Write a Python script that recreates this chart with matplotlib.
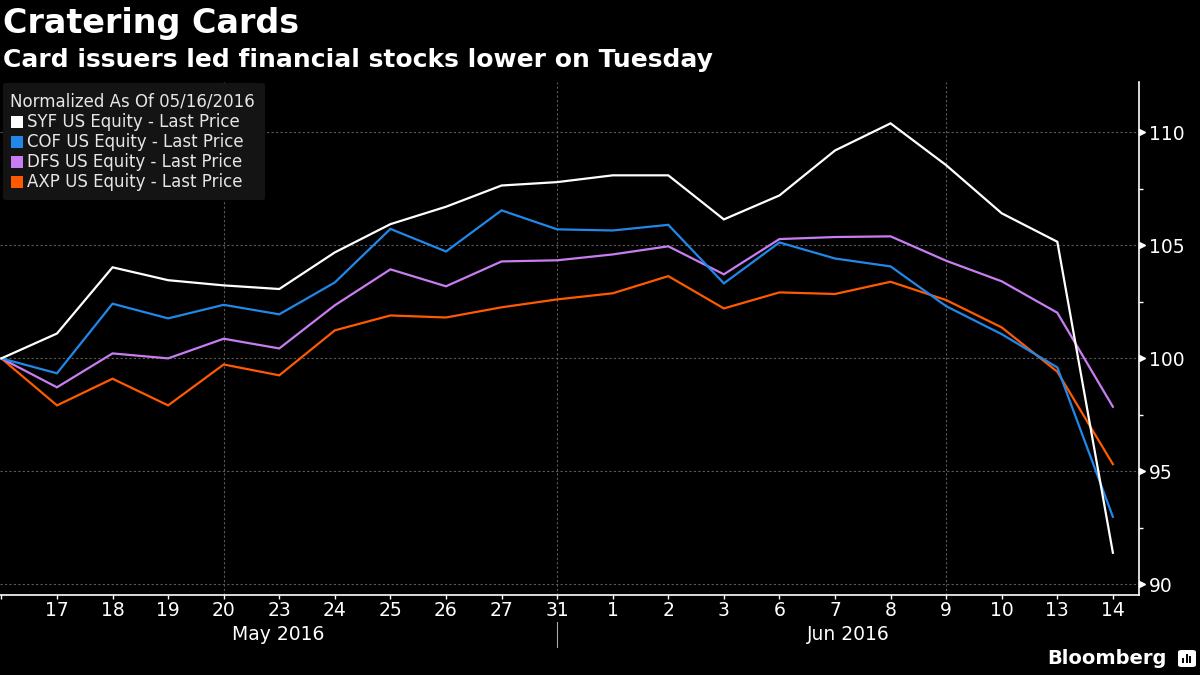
import matplotlib
matplotlib.use("Agg")
import matplotlib.pyplot as plt
from matplotlib.patches import Rectangle, FancyBboxPatch
from matplotlib.transforms import blended_transform_factory

# ---------------- data ----------------
day_labels = ["16", "17", "18", "19", "20", "23", "24", "25", "26", "27", "31",
              "1", "2", "3", "6", "7", "8", "9", "10", "13", "14"]
months = ["May 2016", "Jun 2016"]

syf = [100.0, 101.1, 104.03, 103.46, 103.23, 103.07, 104.69, 105.94, 106.71, 107.65, 107.8,
       108.1, 108.1, 106.15, 107.21, 109.2, 110.4, 108.55, 106.42, 105.16, 91.4]
cof = [100.0, 99.34, 102.42, 101.77, 102.37, 101.95, 103.36, 105.73, 104.73, 106.55, 105.71,
       105.66, 105.91, 103.32, 105.13, 104.42, 104.07, 102.31, 101.07, 99.6, 92.99]
dfs = [100.0, 98.72, 100.22, 100.0, 100.87, 100.44, 102.35, 103.94, 103.19, 104.29, 104.34,
       104.6, 104.96, 103.72, 105.28, 105.37, 105.4, 104.32, 103.41, 102.02, 97.86]
axp = [100.0, 97.92, 99.1, 97.92, 99.73, 99.25, 101.24, 101.9, 101.81, 102.26, 102.61,
       102.88, 103.64, 102.21, 102.92, 102.85, 103.39, 102.58, 101.37, 99.41, 95.32]

series_names = ["SYF US Equity - Last Price", "COF US Equity - Last Price",
                "DFS US Equity - Last Price", "AXP US Equity - Last Price"]
series_vals = [syf, cof, dfs, axp]
colors = ["#ffffff", "#2188ea", "#c97df2", "#ff5a00"]

y_ticks = [90, 95, 100, 105, 110]
y_minor = [92.5, 97.5, 102.5, 107.5]
vgrid_idx = [4, 10, 17]
month_sep_idx = 10

title = "Cratering Cards"
subtitle = "Card issuers led financial stocks lower on Tuesday"
legend_title = "Normalized As Of 05/16/2016"

# ---------------- figure ----------------
W, H = 1200, 675
fig = plt.figure(figsize=(12, 6.75), dpi=100, facecolor="black")
def fx(x): return x / W
def fy(y): return 1 - y / H

ax_left, ax_right, ax_top, ax_bot = 0, 1139, 82, 595
ax = fig.add_axes([fx(ax_left), fy(ax_bot), fx(ax_right - ax_left), (ax_bot - ax_top) / H])
ax.set_facecolor("black")

x = list(range(len(day_labels)))
grid_c = "#5a5a5a"
for v in y_ticks:
    ax.axhline(v, color=grid_c, lw=0.8, ls=(0, (2, 2)), zorder=1)
for i in vgrid_idx:
    ax.axvline(i, color=grid_c, lw=0.8, ls=(0, (2, 2)), zorder=1)

for vals, c in zip(series_vals[::-1], colors[::-1]):
    ax.plot(x, vals, color=c, lw=1.6, zorder=3, solid_joinstyle="miter")

ax.set_xlim(-0.025, 20.47)
ax.set_ylim(89.53, 112.23)

for s in ["left", "top"]:
    ax.spines[s].set_visible(False)
for s in ["right", "bottom"]:
    ax.spines[s].set_color("white")
    ax.spines[s].set_linewidth(1.2)

ax.yaxis.tick_right()
ax.set_yticks(y_ticks)
ax.set_yticks(y_minor, minor=True)
ax.set_yticklabels([str(v) for v in y_ticks])
ax.tick_params(axis="y", which="major", length=0, pad=7, labelsize=13.5, colors="white")
ax.tick_params(axis="y", which="minor", length=3, width=1, color="white", direction="out")
# triangle tick marks on right axis
trans = blended_transform_factory(ax.transAxes, ax.transData)
ax.plot([1.0025] * len(y_ticks), y_ticks, marker=">", ms=4.5, color="white", ls="none",
        transform=trans, clip_on=False, zorder=5)

ax.set_xticks(x)
ax.set_xticklabels(day_labels)
ax.tick_params(axis="x", length=3, width=1, color="white", direction="out", pad=1.5,
               labelsize=13.5, labelcolor="white")
ax.get_xticklabels()[0].set_visible(False)

# month labels and separator
sep_px = ax_left + (month_sep_idx - (-0.025)) / (20.47 + 0.025) * (ax_right - ax_left)
fig.text(fx((ax_left + sep_px) / 2), fy(634), months[0], color="white", fontsize=13.5,
         ha="center", va="center")
fig.text(fx((sep_px + ax_right) / 2), fy(634), months[1], color="white", fontsize=13.5,
         ha="center", va="center")
fig.add_artist(plt.Line2D([fx(sep_px), fx(sep_px)], [fy(622), fy(647)], color="#aaaaaa", lw=0.8))

# titles
fig.text(fx(3), fy(24), title, color="white", fontsize=24, fontweight="bold", va="center", ha="left")
fig.text(fx(3), fy(60), subtitle, color="white", fontsize=18, fontweight="bold", va="center", ha="left")

# legend box
fig.add_artist(FancyBboxPatch((fx(3), fy(200)), fx(262), (200 - 83) / H,
                              boxstyle="round,pad=0,rounding_size=0.003",
                              facecolor="#141414", edgecolor="none", transform=fig.transFigure))
fig.text(fx(10), fy(102), legend_title, color="#e6e6e6", fontsize=12, va="center", ha="left")
for k, (name, c) in enumerate(zip(series_names, colors)):
    yc = 122 + 20 * k
    fig.add_artist(Rectangle((fx(11), fy(yc + 6)), fx(12), 12 / H, facecolor=c,
                             edgecolor="none", transform=fig.transFigure))
    fig.text(fx(27), fy(yc), name, color="#e6e6e6", fontsize=12, va="center", ha="left")

# Bloomberg mark
fig.text(fx(1167), fy(659), "Bloomberg", color="white", fontsize=14, fontweight="bold",
         va="center", ha="right")
fig.add_artist(FancyBboxPatch((fx(1178), fy(667)), fx(18), 17 / H,
                              boxstyle="round,pad=0,rounding_size=0.003",
                              facecolor="white", edgecolor="none", transform=fig.transFigure))
for bx, bh in [(1182, 5), (1185.5, 9), (1189, 7)]:
    fig.add_artist(Rectangle((fx(bx), fy(663)), fx(2), bh / H, facecolor="black",
                             edgecolor="none", transform=fig.transFigure))

fig.savefig("out.png", dpi=100, facecolor="black")
